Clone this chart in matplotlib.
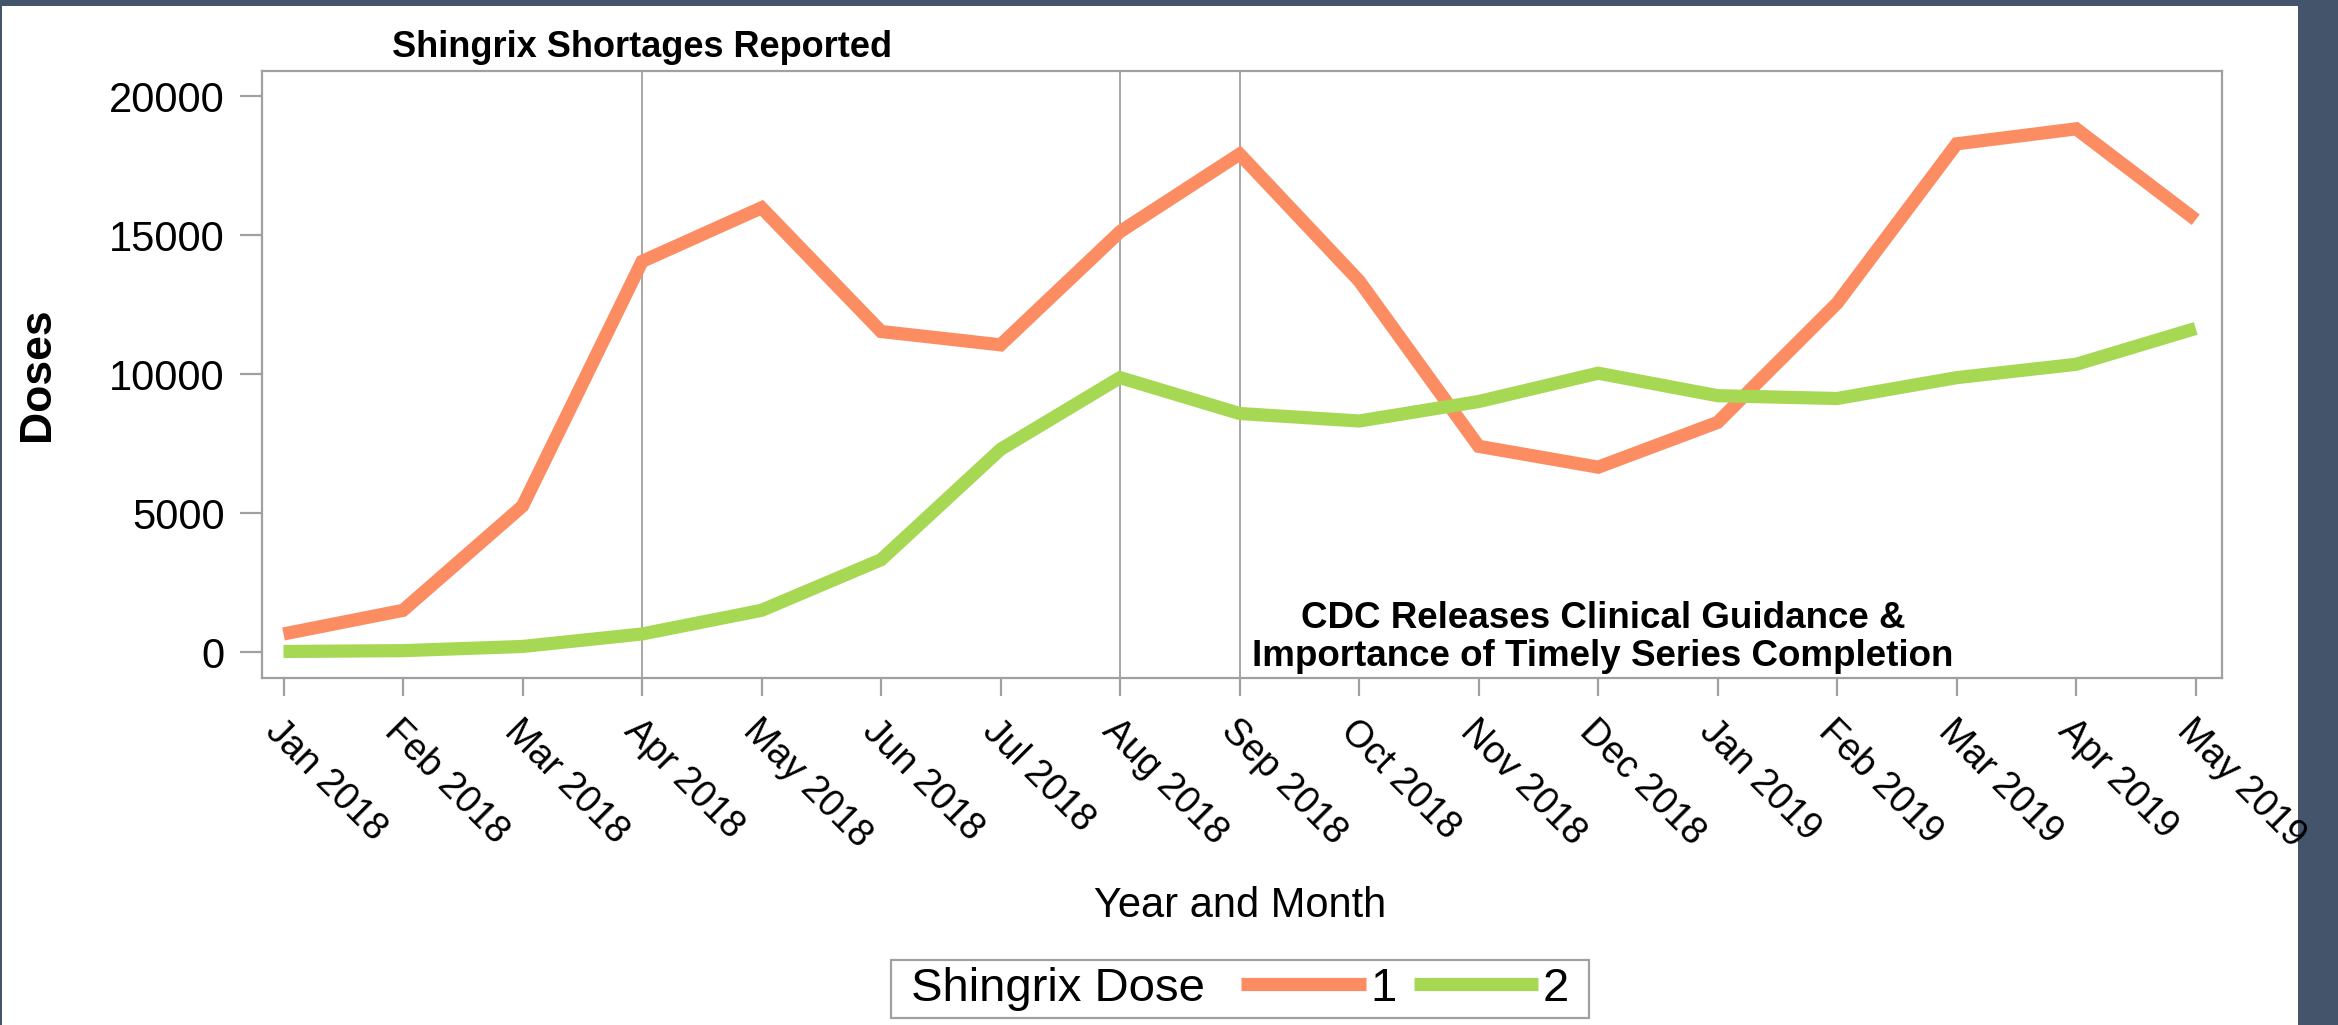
import matplotlib
matplotlib.use("Agg")
import matplotlib.pyplot as plt
import matplotlib.transforms as mtransforms
from matplotlib.lines import Line2D
from matplotlib.patches import Rectangle
from matplotlib.offsetbox import HPacker
import numpy as np

months = ["Jan 2018", "Feb 2018", "Mar 2018", "Apr 2018", "May 2018", "Jun 2018",
          "Jul 2018", "Aug 2018", "Sep 2018", "Oct 2018", "Nov 2018", "Dec 2018",
          "Jan 2019", "Feb 2019", "Mar 2019", "Apr 2019", "May 2019"]
dose1 = [650, 1500, 5250, 14050, 15980, 11530, 11050, 15120, 17910, 13350,
         7400, 6650, 8260, 12550, 18280, 18820, 15550]
dose2 = [20, 50, 200, 650, 1500, 3320, 7290, 9870, 8580, 8310,
         9010, 10030, 9220, 9120, 9870, 10350, 11640]
yticks = [0, 5000, 10000, 15000, 20000]
event_months = ["Apr 2018", "Aug 2018", "Sep 2018"]
note_shortage = "Shingrix Shortages Reported"
note_cdc = "CDC Releases Clinical Guidance &\nImportance of Timely Series Completion"

plt.rcParams['font.family'] = ['Liberation Sans', 'DejaVu Sans']

W, H = 2338, 1025
fig = plt.figure(figsize=(W / 100, H / 100), dpi=100)
fig.patch.set_facecolor('#44546A')
fig.patches.append(Rectangle((2 / W, 0), (2298 - 2) / W, 1 - 6 / H,
                             transform=fig.transFigure, facecolor='white',
                             edgecolor='none', zorder=-10))

ax = fig.add_axes([262 / W, 1 - 678 / H, (2222 - 262) / W, (678 - 71) / H])
x = np.arange(len(months))

for m in event_months:
    ax.axvline(months.index(m), color='#A0A0A0', lw=1.3, zorder=1)

c1, c2 = '#FC8D62', '#A6D854'
lw = 9.5
ax.plot(x, dose1, color=c1, lw=lw, solid_joinstyle='miter', solid_capstyle='butt', zorder=3)
ax.plot(x, dose2, color=c2, lw=lw, solid_joinstyle='miter', solid_capstyle='butt', zorder=3)

ax.set_xlim(-0.18, len(months) - 1 + 0.22)
ax.set_ylim(-934, 20900)
ax.set_yticks(yticks)
ax.set_xticks(x)
ax.set_xticklabels(months)
for s in ax.spines.values():
    s.set_color('#A0A0A0')
    s.set_linewidth(1.6)
ax.tick_params(axis='both', direction='out', width=1.6, color='#A0A0A0', labelcolor='black')
ax.tick_params(axis='y', length=16, pad=11, labelsize=30)
ax.tick_params(axis='x', length=13, pad=12)
plt.setp(ax.get_xticklabels(), rotation=-45, ha='left', va='top', rotation_mode='anchor',
         fontsize=27)

ax.set_ylabel('Doses', fontsize=32, fontweight='bold')
ax.yaxis.set_label_coords(-0.104, 0.5)
ax.set_xlabel('Year and Month', fontsize=30)
ax.xaxis.set_label_coords((1240 - 262) / 1960, -(917 - 678) / 607)
ax.xaxis.label.set_va('baseline')

trans = mtransforms.blended_transform_factory(ax.transData, ax.transAxes)
ax.text(months.index("Apr 2018"), 1 + 14 / 607, note_shortage, transform=trans, ha='center',
        va='baseline', fontsize=26, fontweight='bold')
ax.text(11.04, -780, note_cdc, ha='center', va='bottom', multialignment='center',
        fontsize=26.5, fontweight='bold', linespacing=1.1, zorder=4)

handles = [Line2D([], [], color=c1, lw=lw, solid_capstyle='butt'),
           Line2D([], [], color=c2, lw=lw, solid_capstyle='butt')]
fs = 34
leg = fig.legend(handles, ['1', '2 '], title=' Shingrix Dose', ncol=2,
                 loc='lower center', bbox_to_anchor=(1240 / W, 7 / H),
                 bbox_transform=fig.transFigure, fontsize=fs, title_fontsize=fs,
                 handlelength=2.64, handletextpad=0.1, columnspacing=0.36,
                 borderpad=0.15, labelspacing=0.77, fancybox=False, framealpha=1,
                 edgecolor='#A0A0A0', borderaxespad=0)
leg.get_frame().set_linewidth(1.6)
leg._legend_box.__class__ = HPacker
leg._legend_box.align = 'center'

fig.savefig('out.png', dpi=100, facecolor=fig.get_facecolor())
